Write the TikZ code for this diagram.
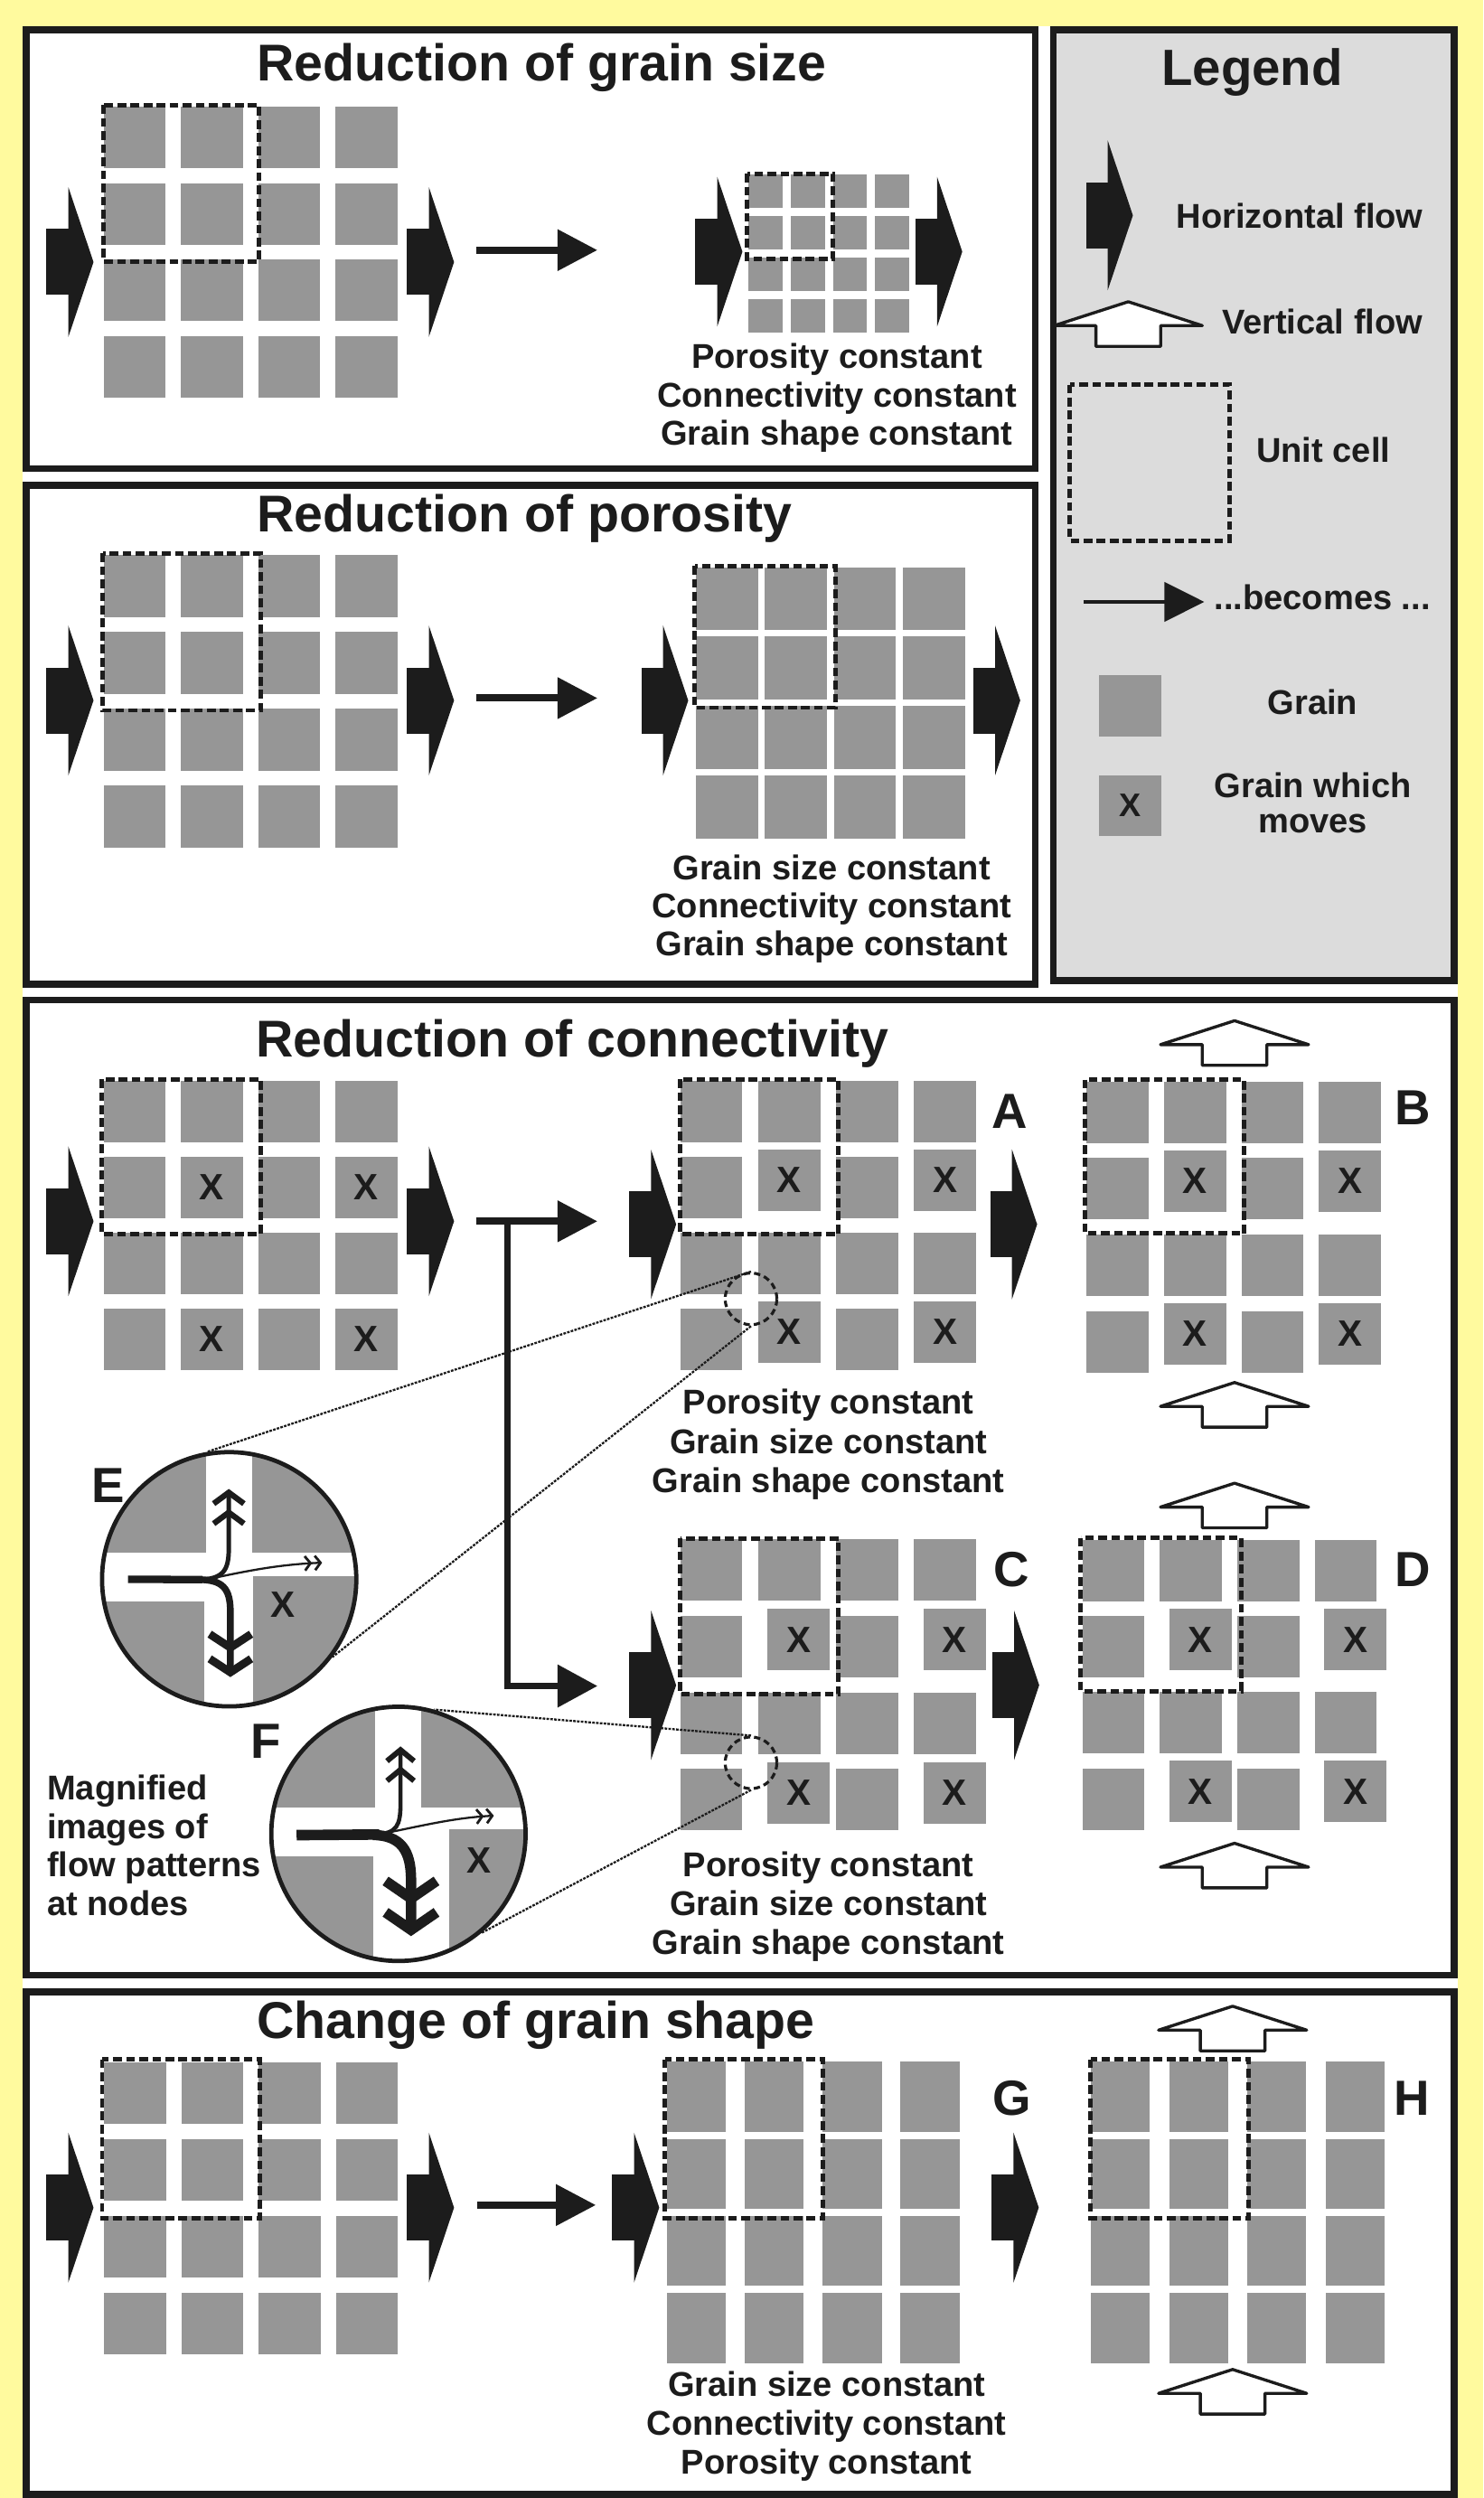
\documentclass[tikz,border=0pt]{standalone}
\usepackage{fontspec}
\setmainfont{Liberation Sans}
\usetikzlibrary{arrows.meta}

\definecolor{bgY}{RGB}{255,250,158}
\definecolor{ink}{RGB}{28,28,28}
\definecolor{grainG}{RGB}{150,150,150}
\definecolor{legG}{RGB}{220,220,220}

\tikzset{
 frame/.style={draw=ink, line width=4.3pt},
 grain/.style={fill=grainG},
 unitcell/.style={draw=ink, line width=2.8pt, dash pattern=on 5.5pt off 2.7pt},
 ttl/.style={font=\fontsize{32.5}{36}\selectfont\bfseries, anchor=base west, inner sep=0, text=ink},
 cst/.style={font=\fontsize{21.6}{24}\selectfont\bfseries, anchor=base, inner sep=0, text=ink},
 lgd/.style={font=\fontsize{21.6}{24}\selectfont\bfseries, anchor=base, inner sep=0, text=ink},
 mag/.style={font=\fontsize{21.6}{24}\selectfont\bfseries, anchor=base west, inner sep=0, text=ink},
 lbl/.style={font=\fontsize{31}{34}\selectfont\bfseries, anchor=base, inner sep=0, text=ink},
 xl/.style={font=\fontsize{23}{23}\selectfont\bfseries, inner sep=0, text=ink},
 xls/.style={font=\fontsize{20.5}{21}\selectfont\bfseries, inner sep=0, text=ink},
 becomes/.style={draw=ink, line width=4.5pt, -{Triangle[length=25pt,width=25pt]}},
 magline/.style={draw=ink, line width=1.3pt, dash pattern=on 1.6pt off 0.8pt},
 smallnode/.style={circle, draw=ink, line width=1.8pt, dash pattern=on 4pt off 2.5pt, minimum size=32.4pt, inner sep=0},
 bignode/.style={circle, draw=ink, line width=2.7pt, minimum size=159.6pt, inner sep=0},
 vflowst/.style={fill=white, draw=ink, line width=1.9pt, line join=round},
}

% horizontal flow arrow: tip x, centre y
\newcommand\hflow[2]{%
 \fill[ink] ({#1-29.5},{#2-20.7}) rectangle ({#1-15},{#2+20.7});
 \fill[ink] ({#1-15.8},{#2-47}) -- (#1,#2) -- ({#1-15.8},{#2+47}) -- cycle;}
% vertical flow arrow: centre x, apex y
\newcommand\vflow[2]{%
 \filldraw[vflowst] ({#1-46.5},{#2+15}) -- (#1,#2) -- ({#1+46.5},{#2+15}) -- ({#1+20.3},{#2+15}) -- ({#1+20.3},{#2+28}) -- ({#1-20.3},{#2+28}) -- ({#1-20.3},{#2+15}) -- cycle;}
% square grid: x0,y0,w,h,px,py
\newcommand\sqgrid[6]{%
 \foreach \i in {0,1,2,3}{\foreach \j in {0,1,2,3}{%
   \fill[grain] ({#1+\i*#5},{#2+\j*#6}) rectangle ++(#3,#4);}}}
% connectivity grid: prefix,x0,y0,px,py,dx,dy
\newcommand\cgrid[7]{%
 \foreach \i/\j in {0/0,1/0,2/0,3/0,0/1,2/1,0/2,1/2,2/2,3/2,0/3,2/3}{%
   \fill[grain] ({#2+\i*#4},{#3+\j*#5}) rectangle ++(39,38.6);}
 \foreach \i/\j in {1/1,3/1,1/3,3/3}{%
   \fill[grain] ({#2+\i*#4+(#6)},{#3+\j*#5+(#7)}) rectangle ++(39,38.6);
   \node[xl] (#1x\i\j) at ({#2+\i*#4+(#6)+19.5},{#3+\j*#5+(#7)+19.3}) {X};}}

\begin{document}
\begin{tikzpicture}[x=1pt,y=-1pt]
\path[use as bounding box] (0,0) rectangle (931,1568);
\fill[bgY] (0,0) rectangle (931,1568);
\fill[white] (14.2,16.5) rectangle (915,1568);

% ---------- panel frames
\draw[frame, fill=white] (16.35,18.65) rectangle (649.85,294.25);
\draw[frame, fill=white] (16.35,304.55) rectangle (649.85,617.85);
\draw[frame, fill=legG] (661.15,18.85) rectangle (912.85,615.45);
\draw[frame, fill=white] (16.35,627.75) rectangle (912.85,1239.85);
\draw[frame, fill=white] (16.35,1250.45) rectangle (912.85,1565.85);

% ================= Panel 1: Reduction of grain size
\node[ttl] (t1) at (161,51) {Reduction of grain size};
\sqgrid{65}{67}{39}{38.6}{48.5}{48}
\draw[unitcell] (65,66) rectangle ++(97.7,98);
\hflow{58.7}{164.5}
\hflow{285}{164.5}
\coordinate (b1s) at (299,157);
\coordinate (b1e) at (375,157);
\draw[becomes] (b1s) -- (b1e);
\sqgrid{469.6}{109.7}{21.5}{21}{26.6}{26.1}
\draw[unitcell] (469,109) rectangle ++(54,53.5);
\hflow{466}{158}
\hflow{604}{158}
\node[cst] (p1a) at (525.3,231.4) {Porosity constant};
\node[cst] (p1b) at (525.3,255.8) {Connectivity constant};
\node[cst] (p1c) at (525.3,279.6) {Grain shape constant};

% ================= Panel 2: Reduction of porosity
\node[ttl] (t2) at (161,333.6) {Reduction of porosity};
\sqgrid{65}{348.3}{39}{39}{48.5}{48.3}
\draw[unitcell] (64.5,347.3) rectangle ++(99,98.6);
\hflow{58.7}{439.7}
\hflow{285}{439.7}
\coordinate (b2s) at (299,438.2);
\coordinate (b2e) at (375,438.2);
\draw[becomes] (b2s) -- (b2e);
\sqgrid{437}{356}{39}{39.5}{43.2}{43.6}
\draw[unitcell] (436,355.2) rectangle ++(88.2,89);
\hflow{432}{439.7}
\hflow{640.4}{439.7}
\node[cst] (p2a) at (522,552.4) {Grain size constant};
\node[cst] (p2b) at (522,575.9) {Connectivity constant};
\node[cst] (p2c) at (522,600) {Grain shape constant};

% ================= Legend
\node[font=\fontsize{32}{36}\selectfont\bfseries, anchor=base, inner sep=0, text=ink] (lt) at (786,53.7) {Legend};
\hflow{711.1}{135.2}
\node[lgd] (lh) at (815.8,143.2) {Horizontal flow};
\vflow{708.2}{189.4}
\node[lgd] (lv) at (830,209.6) {Vertical flow};
\draw[unitcell] (671.5,241.4) rectangle (772,339.3);
\node[lgd] (lu) at (830.6,290.4) {Unit cell};
\coordinate (lb1) at (680.4,377.8);
\coordinate (lb2) at (755.9,377.8);
\draw[draw=ink, line width=2pt, -{Triangle[length=25pt,width=24.6pt]}] (lb1) -- (lb2);
\node[lgd] (lbc) at (830,382.6) {...becomes ...};
\fill[grain] (689.8,423.6) rectangle ++(39.2,39);
\node[lgd] (lg) at (824,448.7) {Grain};
\fill[grain] (689.8,486.5) rectangle ++(39.2,38.5);
\node[xls] (lgx) at (709.4,505.75) {X};
\node[lgd] (lgm1) at (824,500.4) {Grain which};
\node[lgd] (lgm2) at (824,523) {moves};

% ================= Panel 3: Reduction of connectivity
\node[ttl] (t3) at (160.6,663.2) {Reduction of connectivity};
\cgrid{l}{65}{678.2}{48.5}{47.7}{0}{0}
\draw[unitcell] (64,677.4) rectangle ++(99.6,97);
\hflow{58.7}{766.6}
\hflow{285}{766.6}
\coordinate (c3s) at (299,766.6);
\coordinate (c3e) at (375,766.6);
\coordinate (c3j) at (318.5,766.6);
\coordinate (c3l) at (375,1058.3);
\draw[becomes] (c3s) -- (c3e);
\draw[draw=ink, line width=4pt, -{Triangle[length=25pt,width=26pt]}] (c3j) |- (c3l);

% A
\cgrid{a}{427}{678.2}{48.9}{47.7}{0}{-4.5}
\draw[unitcell] (427,677.4) rectangle ++(99.3,97.1);
\hflow{424.4}{768.5}
\hflow{651}{768.5}
\node[lbl] (la) at (633.8,708) {A};
\node[cst] (pa1) at (520,887.6) {Porosity constant};
\node[cst] (pa2) at (520,912.2) {Grain size constant};
\node[cst] (pa3) at (520,936.8) {Grain shape constant};

% B
\cgrid{b}{682}{678.9}{48.6}{48}{0}{-5}
\draw[unitcell] (681,677.7) rectangle ++(100,96.6);
\vflow{774.9}{640.7}
\vflow{774.9}{867.8}
\node[lbl] (lbB) at (887,706) {B};

% C
\cgrid{c}{427}{966.3}{48.9}{48}{6}{-4.3}
\draw[unitcell] (427,965.6) rectangle ++(99.3,97.9);
\hflow{424.4}{1057.8}
\hflow{652.3}{1057.8}
\node[lbl] (lc) at (634.7,996) {C};
\node[cst] (pc1) at (520,1177.8) {Porosity constant};
\node[cst] (pc2) at (520,1202.4) {Grain size constant};
\node[cst] (pc3) at (520,1227) {Grain shape constant};

% D
\cgrid{d}{679.4}{966.8}{48.6}{47.7}{6}{-4.6}
\draw[unitcell] (678.4,965.3) rectangle ++(100.6,96.2);
\vflow{774.9}{931}
\vflow{774.9}{1157}
\node[lbl] (ld) at (887,996) {D};

% small dashed node circles
\node[smallnode] (nA) at (471.4,815.3) {};
\node[smallnode] (nC) at (471.4,1106.5) {};

% magnified circle E
\begin{scope}
\clip (143.85,991.3) circle (79.8);
\fill[white] (143.85,991.3) circle (79.8);
\fill[grain] (60,900) rectangle (129.1,974.8);
\fill[grain] (158.4,900) rectangle (230,974.8);
\fill[grain] (60,1005.4) rectangle (128.1,1080);
\fill[grain] (158.8,989.4) rectangle (230,1080);
\end{scope}
\draw[ink, line width=4.7pt] (80.3,991.3) -- (127,991.5);
\draw[ink, line width=2.8pt, -{Straight Barb[length=7pt,width=19pt,line width=3.6pt,sep=1.5pt]Straight Barb[length=7pt,width=19pt,line width=3.6pt]}]
  (124,991.5) .. controls (140,991.5) and (143.6,986) .. (143.6,972) -- (143.6,934.6);
\draw[ink, line width=1.3pt, -{Straight Barb[length=3.5pt,width=9pt,line width=1.6pt,sep=1pt]Straight Barb[length=3.5pt,width=9pt,line width=1.6pt]}]
  (128,991.8) .. controls (155,986) and (175,982) .. (202.2,980.9);
\draw[ink, line width=4.2pt, -{Straight Barb[length=8.5pt,width=26pt,line width=5pt,sep=1.5pt]Straight Barb[length=8.5pt,width=26pt,line width=5pt]}]
  (124,991.5) .. controls (140,991.5) and (144.6,997) .. (144.6,1012) -- (144.6,1052.7);
\node[xl] (ex) at (177.6,1007) {X};
\node[bignode] (circE) at (143.85,991.3) {};
\node[lbl] (le) at (67.8,943) {E};

% magnified circle F
\begin{scope}
\clip (250.1,1151.1) circle (79.8);
\fill[white] (250.1,1151.1) circle (79.8);
\fill[grain] (160,1060) rectangle (235.3,1134.4);
\fill[grain] (264.6,1060) rectangle (340,1134.4);
\fill[grain] (160,1165.2) rectangle (234.3,1240);
\fill[grain] (282,1148.2) rectangle (340,1240);
\end{scope}
\draw[ink, line width=6.6pt] (186.2,1151.9) -- (238,1151.5);
\draw[ink, line width=2.6pt, -{Straight Barb[length=7pt,width=17pt,line width=3.4pt,sep=1.5pt]Straight Barb[length=7pt,width=17pt,line width=3.4pt]}]
  (236,1151.3) .. controls (249,1151) and (251.4,1146) .. (251.4,1132) -- (251.4,1096.2);
\draw[ink, line width=1.3pt, -{Straight Barb[length=3.5pt,width=9pt,line width=1.6pt,sep=1pt]Straight Barb[length=3.5pt,width=9pt,line width=1.6pt]}]
  (240,1151) .. controls (265,1146) and (285,1141) .. (310,1139.7);
\draw[ink, line width=6.5pt, -{Straight Barb[length=11pt,width=32pt,line width=6.5pt,sep=1.5pt]Straight Barb[length=11pt,width=32pt,line width=6.5pt]}]
  (234,1151.8) .. controls (252,1152) and (258,1162) .. (258,1180) -- (258,1215.3);
\node[xl] (fx) at (300.5,1168) {X};
\node[bignode] (circF) at (250.1,1151.1) {};
\node[lbl] (lf) at (167,1103.7) {F};

% magnifier lines
\draw[magline] (nA.north) -- (circE.100);
\draw[magline] (nA.south) -- (circE.323);
\draw[magline] (nC.north) -- (circF.74);
\draw[magline] (nC.south) -- (circF.310);

\node[mag] (m1) at (29.4,1129.8) {Magnified};
\node[mag] (m2) at (29.4,1154.4) {images of};
\node[mag] (m3) at (29.4,1177.8) {flow patterns};
\node[mag] (m4) at (29.4,1202.4) {at nodes};

% ================= Panel 4: Change of grain shape
\node[ttl] (t4) at (161,1279.3) {Change of grain shape};
\sqgrid{65.3}{1294.7}{39}{38.6}{48.5}{48.2}
\draw[unitcell] (64.1,1292.6) rectangle ++(99.2,99.7);
\hflow{58.7}{1385.7}
\hflow{285}{1385.7}
\coordinate (b4s) at (299.8,1384.1);
\coordinate (b4e) at (374,1384.1);
\draw[becomes] (b4s) -- (b4e);
\sqgrid{418.6}{1294.1}{37}{44}{48.9}{48.4}
\draw[unitcell] (417.4,1292.6) rectangle ++(99.1,99.7);
\hflow{413.8}{1385.7}
\hflow{652}{1385.7}
\node[lbl] (lgG) at (635.3,1328) {G};
\sqgrid{684.6}{1294.1}{37}{44}{49.2}{48.4}
\draw[unitcell] (684.6,1292.6) rectangle ++(99.1,99.7);
\vflow{773.7}{1259.3}
\vflow{773.7}{1487.3}
\node[lbl] (lgH) at (886,1328) {H};
\node[cst] (pg1) at (518.9,1504.2) {Grain size constant};
\node[cst] (pg2) at (518.9,1528.5) {Connectivity constant};
\node[cst] (pg3) at (518.9,1552.8) {Porosity constant};
\end{tikzpicture}
\end{document}
